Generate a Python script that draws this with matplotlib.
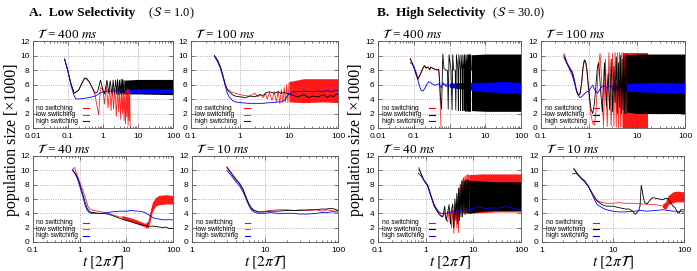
import matplotlib
matplotlib.use("Agg")
import matplotlib.pyplot as plt
from matplotlib import ticker

plt.rcParams['font.family'] = ['Liberation Sans', 'DejaVu Sans']
plt.rcParams['mathtext.fontset'] = 'stix'

# ---------------- data ----------------
# A. low selectivity, T = 400 ms
a400_red_t = [0.08, 0.1, 0.12, 0.15, 0.2, 0.3, 0.4, 0.5, 0.6, 0.7, 0.75, 0.85, 1.0, 1.1, 1.25, 1.4, 1.55, 1.7, 1.85,
              2.0, 2.2, 2.4, 2.6, 2.8, 3.0, 3.2, 3.4, 3.6, 3.8, 4.0, 4.2, 4.4, 4.6, 4.8, 5.0, 5.2, 5.4, 5.6, 5.8, 6.0, 6.1]
a400_red_y = [9.5, 7.8, 6.2, 4.8, 5.2, 6.9, 6.4, 5.5, 4.4, 2.6, 1.8, 5.6, 5.3, 3.3, 5.8, 2.8, 5.6, 2.4, 5.5,
              2.6, 5.4, 1.6, 5.5, 2.2, 5.3, 1.2, 5.4, 2.0, 5.2, 1.0, 5.3, 0.6, 5.2, 1.5, 5.4, 0.4, 5.3, 1.0, 5.2, 0.2, 0.0]
a400_black_t = [0.08, 0.1, 0.12, 0.15, 0.2, 0.25, 0.3, 0.35, 0.4, 0.5, 0.6, 0.7, 0.85, 1.0, 1.1, 1.3, 1.45, 1.6,
                1.8, 1.95, 2.1, 2.3, 2.45, 2.6, 2.8, 2.95, 3.1, 3.3, 3.45, 3.6, 3.8, 3.95, 4.1]
a400_black_y = [9.5, 7.8, 6.2, 4.8, 5.2, 6.2, 6.9, 6.8, 6.4, 5.5, 4.8, 5.0, 6.6, 5.2, 4.7, 6.6, 4.8, 6.5,
                4.7, 6.6, 4.7, 6.6, 4.7, 6.7, 4.6, 6.6, 4.7, 6.7, 4.6, 6.7, 4.7, 6.6, 4.8]
a400_black_band = ([4.0, 10, 100], [4.7, 4.7, 4.6], [6.6, 6.7, 6.7])
a400_blue_t = [0.08, 0.1, 0.12, 0.15, 0.17, 0.2, 0.3, 0.4, 0.5, 0.6, 0.7, 0.8, 1.0, 1.5, 2.0, 3.0]
a400_blue_y = [9.5, 7.8, 6.0, 4.4, 4.0, 4.0, 4.1, 4.2, 4.3, 4.4, 4.6, 4.8, 5.0, 5.1, 5.1, 5.1]
a400_blue_band = ([3.0, 10, 100], [4.9, 4.9, 4.9], [5.3, 5.4, 5.4])

# A. low selectivity, T = 100 ms
a100_red_t = [0.3, 0.35, 0.4, 0.45, 0.5, 0.55, 0.6, 0.7, 0.8, 1.0, 1.2, 1.5, 1.8, 2.0, 2.3, 2.6, 3.0, 3.3, 3.6,
              4.0, 4.5, 5.0, 5.5, 6.0, 6.5, 7.0, 7.5, 8.0, 8.5, 9.0, 9.5, 10.0]
a100_red_y = [10.0, 9.3, 8.4, 7.2, 6.0, 5.3, 5.2, 4.9, 4.8, 4.6, 4.5, 4.4, 4.6, 4.8, 4.3, 4.6, 4.2, 4.8, 4.0,
              4.9, 3.8, 5.0, 3.6, 5.1, 3.4, 5.3, 3.5, 5.6, 3.6, 6.0, 3.5, 6.2]
a100_red_band = ([10, 20, 50, 100], [3.6, 3.5, 3.6, 3.5], [6.4, 6.8, 6.8, 6.8])
a100_black_t = [0.3, 0.35, 0.4, 0.45, 0.5, 0.55, 0.6, 0.7, 0.8, 1.0, 1.3, 1.6, 2.0, 2.5, 3.0, 3.5, 4.0, 5.0,
                6.0, 7.0, 8.0, 10, 12, 15, 20, 25, 30, 40, 50, 60, 70, 80, 90, 100]
a100_black_y = [10.0, 9.3, 8.4, 7.2, 6.0, 5.3, 5.0, 4.6, 4.4, 4.3, 4.2, 4.4, 4.3, 4.6, 4.5, 4.9, 5.0, 4.8,
                5.0, 4.8, 4.9, 4.7, 4.5, 4.3, 4.6, 4.2, 4.4, 4.3, 4.6, 4.2, 4.5, 4.3, 4.6, 4.7]
a100_blue_t = [0.3, 0.35, 0.4, 0.45, 0.5, 0.55, 0.6, 0.7, 0.8, 1.0, 1.5, 2.0, 3.0, 4.0, 5.0, 6.0, 7.0, 8.0,
               9.0, 10, 12, 15, 20, 30, 40, 50, 60, 70, 80, 100]
a100_blue_y = [9.9, 9.1, 8.2, 7.0, 5.8, 4.8, 4.3, 3.8, 3.6, 3.5, 3.4, 3.4, 3.4, 3.5, 3.5, 3.6, 3.6, 3.8,
               4.3, 4.7, 5.0, 5.0, 5.1, 5.0, 5.1, 5.0, 5.2, 5.0, 5.1, 5.2]

# A. low selectivity, T = 40 ms
a40_red_t = [0.72, 0.78, 0.85, 0.95, 1.05, 1.2, 1.35, 1.5, 1.7, 2.0, 2.5, 3, 4, 5, 7, 8]
a40_red_y = [10.2, 10.4, 9.6, 8.8, 8.0, 7.0, 6.0, 5.0, 4.5, 4.4, 4.3, 4.2, 4.0, 3.8, 3.5, 3.45]
a40_red_band = ([8, 12, 18, 25, 29, 32, 36, 42, 50, 70, 100],
                [3.2, 2.9, 2.5, 2.1, 1.9, 2.8, 4.2, 5.0, 5.2, 5.3, 5.3],
                [3.7, 3.4, 3.0, 2.6, 2.9, 4.2, 5.5, 6.2, 6.5, 6.6, 6.5])
a40_black_t = [0.7, 0.8, 0.9, 1.0, 1.15, 1.3, 1.45, 1.6, 1.8, 2, 2.5, 3, 4, 5, 6, 8, 10, 13, 16, 20, 25, 30,
               40, 50, 60, 70, 80, 100]
a40_black_y = [10.1, 9.6, 9.0, 8.1, 6.8, 5.6, 4.7, 4.3, 4.1, 4.1, 4.0, 4.0, 3.9, 3.7, 3.5, 3.2, 3.0, 2.8,
               2.6, 2.4, 2.3, 2.2, 2.2, 2.1, 2.0, 2.1, 1.9, 1.9]
a40_blue_t = [0.7, 0.8, 0.9, 1.0, 1.15, 1.3, 1.45, 1.6, 1.8, 2, 3, 4, 5, 7, 10, 13, 16, 20, 25, 30, 35, 40,
              50, 60, 80, 100]
a40_blue_y = [10.0, 9.5, 8.8, 7.8, 6.5, 5.2, 4.4, 4.1, 4.0, 4.0, 4.0, 4.1, 4.2, 4.3, 4.3, 4.4, 4.3, 4.3,
              4.1, 3.8, 3.5, 3.3, 3.2, 3.1, 3.1, 3.1]

# A. low selectivity, T = 10 ms
a10_t = [3.0, 3.5, 4.0, 4.5, 5.0, 5.5, 6.0, 6.5, 7.0, 8.0, 9.0, 10, 12, 15, 20, 25, 30, 40, 50, 60, 70, 80, 90, 100]
a10_red_y = [10.5, 9.6, 8.8, 8.2, 7.4, 6.3, 5.4, 4.8, 4.5, 4.2, 4.2, 4.3, 4.4, 4.5, 4.5, 4.4, 4.5, 4.4,
             4.5, 4.3, 4.5, 4.4, 4.3, 4.4]
a10_black_y = [10.4, 9.5, 8.7, 8.1, 7.3, 6.2, 5.3, 4.7, 4.4, 4.2, 4.2, 4.2, 4.3, 4.3, 4.4, 4.4, 4.4, 4.5,
               4.5, 4.6, 4.6, 4.7, 4.6, 4.4]
a10_blue_y = [10.0, 9.2, 8.4, 7.8, 7.0, 6.0, 5.1, 4.5, 4.2, 4.0, 4.0, 4.0, 4.1, 4.0, 4.0, 4.0, 3.9, 3.9,
              4.0, 4.1, 4.1, 4.2, 4.2, 4.2]

# B. high selectivity, T = 400 ms
b400_red_t = [0.08, 0.09, 0.1, 0.12, 0.13, 0.15, 0.18, 0.2, 0.22, 0.25, 0.28, 0.3, 0.35, 0.4, 0.45, 0.5,
              0.53, 0.56, 0.58]
b400_red_y = [9.6, 9.0, 8.4, 7.2, 6.8, 7.4, 8.3, 8.6, 8.2, 8.4, 8.0, 8.4, 8.2, 8.1, 8.0, 8.0, 6.0, 2.5, 0.0]
b400_black_t = [0.08, 0.09, 0.1, 0.12, 0.13, 0.15, 0.18, 0.2, 0.22, 0.25, 0.28, 0.3, 0.35, 0.4, 0.45, 0.5,
                0.53, 0.56, 0.6, 0.65, 0.7, 0.8, 0.88, 0.92, 0.97, 1.1, 1.18, 1.23, 1.3, 1.45, 1.5, 1.56,
                1.72, 1.77, 1.83, 2.0, 2.04, 2.1, 2.26, 2.3, 2.36, 2.52, 2.56, 2.62, 2.78, 2.82, 2.88,
                3.04, 3.08, 3.14, 3.3, 3.34, 3.4, 3.56, 3.6, 3.66, 3.82, 3.86, 3.92, 4.1]
b400_black_y = [9.5, 9.0, 8.4, 7.2, 6.7, 7.3, 8.2, 8.6, 8.3, 8.4, 8.1, 8.4, 8.2, 8.1, 8.0, 8.1,
                6.5, 4.0, 2.6, 10.2, 8.2, 8.0, 7.9, 2.6, 10.1, 8.0, 2.5, 10.1, 8.1, 7.9, 2.5, 10.1,
                8.0, 2.4, 10.1, 8.0, 2.4, 10.1, 8.0, 2.4, 10.1, 8.0, 2.4, 10.1, 8.0, 2.3, 10.1,
                8.0, 2.3, 10.1, 8.0, 2.3, 10.1, 8.0, 2.3, 10.1, 8.0, 2.3, 10.1, 8.0]
b400_black_band = ([4.1, 10, 100], [2.4, 2.3, 2.3], [10.1, 10.2, 10.2])
b400_blue_t = [0.08, 0.09, 0.1, 0.12, 0.14, 0.16, 0.18, 0.2, 0.23, 0.26, 0.3, 0.35, 0.4, 0.45, 0.5, 0.55,
               0.6, 0.65, 0.7, 0.75, 0.8, 0.9, 1.0]
b400_blue_y = [9.0, 8.8, 8.5, 7.5, 6.0, 5.2, 5.1, 5.4, 6.0, 6.4, 6.2, 6.0, 5.9, 6.0, 6.1, 5.8,
               5.5, 6.3, 5.9, 6.1, 5.7, 6.2, 5.8]
b400_blue_band = ([1, 3, 10, 30, 100], [5.6, 5.3, 5.0, 4.9, 4.8], [6.2, 6.3, 6.3, 6.4, 6.3])

# B. high selectivity, T = 100 ms
b100_red_t = [0.3, 0.35, 0.4, 0.45, 0.5, 0.55, 0.6, 0.65, 0.7, 0.75, 0.8, 0.85, 0.9, 1.0, 1.1, 1.2, 1.3,
              1.4, 1.55, 1.7, 1.85, 2.0, 2.2, 2.4, 2.6, 2.9, 3.1, 3.3, 3.5, 3.7, 3.9, 4.1, 4.3, 4.5, 4.7,
              4.9, 5.1]
b100_red_y = [10.3, 9.0, 8.3, 7.8, 6.6, 5.2, 4.6, 4.8, 6.0, 8.2, 9.3, 9.1, 8.0, 4.5, 1.8, 0.6, 0.4,
              2.5, 8.0, 10.3, 6.0, 0.3, 9.5, 0.2, 10.4, 0.3, 10.3, 0.2, 10.4, 0.1, 10.4, 0.2, 10.4, 0.1,
              10.3, 0.1, 10.4]
b100_red_band = ([5.1, 17], [0.0, 0.0], [10.4, 10.4])
b100_black_t = [0.3, 0.35, 0.4, 0.45, 0.5, 0.55, 0.6, 0.65, 0.7, 0.75, 0.8, 0.85, 0.9, 1.0, 1.1, 1.2, 1.3,
                1.4, 1.5, 1.6, 1.75, 1.9, 2.1, 2.3, 2.5, 2.7, 2.9, 3.1, 3.3, 3.5, 3.7, 3.9, 4.1, 4.3,
                4.5, 4.7, 4.9, 5.1, 5.3, 5.5, 5.7, 5.9, 6.1]
b100_black_y = [10.0, 8.9, 8.2, 7.6, 6.4, 5.0, 4.5, 4.7, 6.2, 8.4, 9.4, 9.2, 8.2, 5.0, 2.6, 2.0, 3.5,
                6.0, 8.5, 9.0, 5.0, 2.2, 9.0, 3.0, 7.5, 2.5, 9.5, 2.2, 8.5, 3.5, 9.8, 2.0, 9.0, 2.8,
                10.0, 2.0, 9.5, 2.5, 10.0, 2.0, 10.1, 2.0, 10.1]
b100_black_band = ([6.0, 10, 30, 100], [2.2, 2.0, 2.0, 2.0], [10.1, 10.2, 10.2, 10.2])
b100_blue_t = [0.3, 0.35, 0.4, 0.45, 0.5, 0.55, 0.6, 0.65, 0.7, 0.8, 0.9, 1.0, 1.1, 1.2, 1.3, 1.5, 1.7,
               2.0, 2.3, 2.6, 3.0]
b100_blue_y = [9.7, 8.8, 8.0, 7.2, 6.2, 5.2, 4.5, 4.2, 4.3, 4.7, 5.0, 5.1, 5.6, 5.9, 5.3, 4.8, 5.4,
               5.9, 5.5, 5.8, 5.6]
b100_blue_band = ([3.0, 10, 30, 100], [5.2, 5.0, 4.9, 4.8], [6.0, 6.2, 6.3, 6.2])

# B. high selectivity, T = 40 ms
b40_t = [0.72, 0.8, 0.9, 1.0, 1.1, 1.2, 1.35, 1.5, 1.7, 1.9, 2.1, 2.3, 2.5, 2.7, 2.9, 3.1, 3.3, 3.5, 3.7,
         3.9, 4.1, 4.3, 4.5, 4.7, 4.9, 5.1, 5.3, 5.5, 5.7, 5.9, 6.1, 6.3, 6.5, 6.7, 6.9, 7.1, 7.3, 7.5,
         7.7, 7.9, 8.1]
b40_red_y = [10.4, 9.6, 8.8, 8.3, 8.0, 7.3, 6.2, 5.3, 4.6, 4.0, 3.7, 3.6, 4.2, 3.2, 2.8, 4.6, 4.0, 2.0,
             4.5, 1.2, 4.8, 5.5, 2.0, 6.5, 1.3, 7.5, 4.0, 8.0, 4.0, 8.5, 4.2, 9.0, 4.0, 9.2, 4.1, 9.3,
             4.0, 9.4, 4.1, 9.4, 4.0]
b40_red_band = ([8, 15, 30, 100], [4.0, 4.1, 4.2, 4.2], [9.4, 9.5, 9.5, 9.5])
b40_black_y = [10.2, 9.5, 8.7, 8.2, 7.9, 7.0, 6.0, 5.0, 4.4, 3.9, 3.6, 3.5, 5.0, 3.0, 4.2, 5.2, 2.5, 4.6,
               5.3, 2.0, 6.0, 3.0, 6.8, 2.5, 7.5, 3.0, 8.0, 3.5, 8.5, 3.5, 8.8, 4.0, 8.5, 3.8, 8.7, 4.0,
               8.6, 4.0, 8.7, 4.0, 8.6]
b40_black_band = ([8, 15, 30, 100], [4.0, 4.3, 4.4, 4.4], [8.6, 8.5, 8.4, 8.4])
b40_blue_t = [0.7, 0.8, 0.9, 1.0, 1.1, 1.2, 1.35, 1.5, 1.7, 1.9, 2.1, 2.4, 2.7, 3.0, 3.5, 4, 5, 6, 7, 8,
              10, 12, 15, 20, 25, 30, 40, 50, 60, 70, 80, 100]
b40_blue_y = [9.6, 9.2, 8.7, 8.3, 7.8, 7.0, 6.0, 5.2, 4.6, 4.2, 4.0, 3.9, 4.0, 4.1, 4.2, 4.3, 4.4, 4.5,
              4.6, 4.6, 4.7, 4.9, 4.8, 4.6, 4.8, 4.7, 4.8, 5.0, 4.8, 4.7, 4.6, 4.6]

# B. high selectivity, T = 10 ms
b10_red_t = [2.8, 3.2, 3.6, 4.0, 4.5, 5.0, 5.5, 6.0, 7, 8, 10, 12, 15, 20, 25, 30, 35, 40, 45, 50, 55, 58]
b10_red_y = [10.3, 9.5, 8.9, 8.5, 7.8, 7.0, 6.3, 5.8, 5.5, 5.4, 5.4, 5.5, 5.4, 5.4, 5.3, 5.3, 5.2, 5.2,
             5.1, 5.0, 4.6, 5.3]
b10_red_band = ([50, 55, 60, 70, 80, 100], [4.8, 4.6, 5.2, 5.5, 5.6, 5.6], [5.3, 5.6, 6.5, 7.0, 7.1, 7.0])
b10_black_t = [2.8, 3.2, 3.6, 4.0, 4.5, 5.0, 5.5, 6.0, 7, 8, 10, 12, 15, 17, 19, 20, 21, 22, 23, 24, 25,
               26, 27, 28, 30, 33, 36, 40, 45, 50, 55, 60, 65, 70, 75, 80, 85, 90, 100]
b10_black_y = [10.2, 9.4, 8.8, 8.4, 7.7, 6.9, 6.2, 5.7, 5.2, 5.0, 5.0, 4.8, 4.6, 4.6, 4.3, 4.0, 3.9, 4.2,
               4.4, 5.0, 7.9, 7.0, 6.0, 5.5, 5.3, 5.8, 6.2, 6.1, 6.0, 5.9, 6.1, 6.0, 5.5, 5.0, 4.8, 4.2,
               4.0, 4.5, 4.5]
b10_blue_t = [2.7, 3.0, 3.5, 4.0, 4.5, 5.0, 5.5, 6.0, 7, 8, 10, 12, 15, 20, 25, 30, 40, 50, 60, 70, 80, 100]
b10_blue_y = [9.5, 9.6, 9.0, 8.5, 7.8, 6.8, 5.9, 5.2, 4.8, 4.5, 4.3, 4.2, 4.2, 4.3, 4.4, 4.3, 4.4, 4.5,
              4.4, 4.3, 4.3, 4.2]

legend_labels = ['no switching', 'low switching', 'high switching']
periods = ['400', '100', '40', '10']

RED, BLACK, BLUE = '#ff0000', '#000000', '#0000ff'

# panel table: (pixel box l, r, top, bottom), xlim, period, series
W, H = 697, 271
panels = [
    ((33, 173, 41, 128), (0.01, 100), periods[0], 'A',
     [(RED, a400_red_t, a400_red_y, None), (BLACK, a400_black_t, a400_black_y, a400_black_band),
      (BLUE, a400_blue_t, a400_blue_y, a400_blue_band)]),
    ((191, 338, 41, 128), (0.1, 100), periods[1], 'A',
     [(RED, a100_red_t, a100_red_y, a100_red_band), (BLACK, a100_black_t, a100_black_y, None),
      (BLUE, a100_blue_t, a100_blue_y, None)]),
    ((33, 173, 156, 242), (0.1, 100), periods[2], 'A',
     [(RED, a40_red_t, a40_red_y, a40_red_band), (BLACK, a40_black_t, a40_black_y, None),
      (BLUE, a40_blue_t, a40_blue_y, None)]),
    ((192, 338, 156, 242), (1, 100), periods[3], 'A',
     [(RED, a10_t, a10_red_y, None), (BLACK, a10_t, a10_black_y, None), (BLUE, a10_t, a10_blue_y, None)]),
    ((378, 521, 41, 128), (0.01, 100), periods[0], 'B',
     [(RED, b400_red_t, b400_red_y, None), (BLACK, b400_black_t, b400_black_y, b400_black_band),
      (BLUE, b400_blue_t, b400_blue_y, b400_blue_band)]),
    ((541, 685, 41, 128), (0.1, 100), periods[1], 'B',
     [(RED, b100_red_t, b100_red_y, b100_red_band), (BLACK, b100_black_t, b100_black_y, b100_black_band),
      (BLUE, b100_blue_t, b100_blue_y, b100_blue_band)]),
    ((378, 521, 156, 242), (0.1, 100), periods[2], 'B',
     [(RED, b40_t, b40_red_y, b40_red_band), (BLACK, b40_t, b40_black_y, b40_black_band),
      (BLUE, b40_blue_t, b40_blue_y, None)]),
    ((542, 684, 156, 242), (1, 100), periods[3], 'B',
     [(RED, b10_red_t, b10_red_y, b10_red_band), (BLACK, b10_black_t, b10_black_y, None),
      (BLUE, b10_blue_t, b10_blue_y, None)]),
]

fig = plt.figure(figsize=(W / 100, H / 100), dpi=100)

for (l, r, t, b), xlim, per, group, series in panels:
    ax = fig.add_axes([l / W, 1 - b / H, (r - l) / W, (b - t) / H])
    for col, xs, ys, band in series:
        ax.plot(xs, ys, color=col, lw=0.6, alpha=0.85 if col == RED else 1)
        if band is not None:
            ax.fill_between(band[0], band[1], band[2], color=col, lw=0, alpha=0.9 if col == RED else 1)
    ax.set_xscale('log')
    ax.set_xlim(*xlim)
    ax.set_ylim(0, 12)
    ax.set_yticks(range(0, 13, 2))
    ax.xaxis.set_major_formatter(ticker.FuncFormatter(lambda v, p: f'{v:g}'))
    ax.xaxis.set_minor_formatter(ticker.NullFormatter())
    ax.grid(True, which='major', ls=':', color='#999999', lw=0.6)
    ax.set_axisbelow(True)
    ax.tick_params(which='both', direction='in', top=True, right=True, labelsize=6,
                   color='#444444', width=0.5)
    ax.tick_params(axis='x', pad=3.5)
    ax.tick_params(axis='y', pad=2.5)
    ax.tick_params(which='major', length=3)
    ax.tick_params(which='minor', length=1.5)
    for s in ax.spines.values():
        s.set_color('#555555')
        s.set_linewidth(0.6)
    ax.text(0.03, 1.005, r'$\mathcal{T}$ = ' + per + r' $\mathit{ms}$', transform=ax.transAxes,
            ha='left', va='bottom', fontsize=9.5, family='Liberation Serif')
    # key in the lower left, text first and sample line after
    key_cols = [RED, '#777777' if group == 'A' else BLACK, BLUE]
    for i, (lab, kc) in enumerate(zip(legend_labels, key_cols)):
        ky = 0.225 - i * 0.075
        ax.text(0.025, ky, lab, transform=ax.transAxes, fontsize=4.8, va='center')
        ax.plot([0.36, 0.40], [ky, ky], transform=ax.transAxes, color=kc, lw=0.8)
    if t > 100:
        ax.set_xlabel(r'$t\ [2\pi\mathcal{T}]$', fontsize=11, labelpad=0, family='Liberation Serif')

fig.text(29 / W, 1 - 16 / H, 'A.  Low Selectivity', fontsize=9.5, fontweight='bold', family='Liberation Serif')
fig.text(148 / W, 1 - 16 / H, r'($\mathcal{S}$ = 1.0)', fontsize=9, family='Liberation Serif')
fig.text(377 / W, 1 - 16 / H, 'B.  High Selectivity', fontsize=9.5, fontweight='bold', family='Liberation Serif')
fig.text(492 / W, 1 - 16 / H, r'($\mathcal{S}$ = 30.0)', fontsize=9, family='Liberation Serif')
for x in (12, 356):
    fig.text(x / W, 0.485, 'population size [×1000]', rotation=90, ha='center', va='center',
             fontsize=11.5, family='Liberation Serif')

fig.savefig('out.png', dpi=100)
